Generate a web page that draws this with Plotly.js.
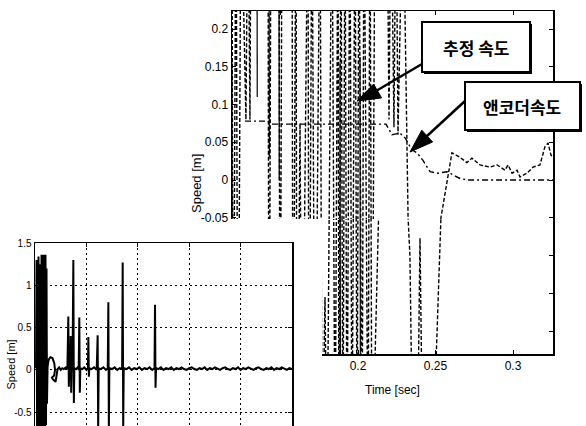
<!DOCTYPE html>
<html>
<head>
<meta charset="utf-8">
<script src="https://cdn.plot.ly/plotly-3.0.1.min.js"></script>
<style>html,body{margin:0;padding:0;background:#fff;}#chart{width:586px;height:426px;}</style>
</head>
<body>
<div id="chart"></div>
<script>
// ---------- Upper (zoomed) chart data ----------
// Estimated speed (dashed) – wild oscillations, values beyond the axis are clipped
const estTime = [
  0.1187,0.1194,0.1213,0.1226,0.1245,0.1277,0.1290,0.1303,0.1310,0.1419,
  0.1426,0.1439,0.1490,0.1497,0.1510,0.1574,0.1581,0.1600,0.1606,0.1626,
  0.1639,0.1677,0.1684,0.1703,0.1723,0.1755,0.1768,0.1787,0.1800,0.1832,
  0.1852,0.1871,0.1877,0.1890,0.1903,0.1916,0.1929,0.1948,0.1961,0.1981,
  0.1994,0.2006,0.2026,0.2039,0.2065,0.2077,0.2090,0.2110,0.2123,0.2187,
  0.2200,0.2213,0.2232,0.2245,0.2258,0.2290,0.2323,0.2335,0.2355,0.2381,
  0.2400,0.2419,0.2477,0.2535,0.2606,0.2658,0.2703,0.2735,0.2787,0.2852,
  0.2897,0.2948,0.2968,0.2994,0.3026,0.3045,0.3090,0.3129,0.3174,0.3206,
  0.3226,0.3245,0.3258
];
const estSpeed = [
  0.40,-0.40,0.40,-0.40,0.40,0.08,0.40,0.08,0.40,0.40,
  -0.40,0.40,0.40,-0.40,0.40,0.40,-0.40,0.40,-0.40,0.075,
  -0.40,0.40,-0.40,0.40,-0.40,0.40,-0.40,-0.155,-0.40,0.40,
  -0.40,0.40,-0.40,0.40,-0.40,0.40,-0.40,0.40,-0.40,0.40,
  -0.40,0.40,-0.40,0.40,-0.40,0.40,-0.40,0.40,0.40,0.40,
  0.08,0.40,0.07,0.40,0.06,0.40,-0.05,-0.10,-0.40,-0.40,
  -0.077,-0.40,-0.40,-0.05,0.036,0.030,0.023,0.029,0.020,0.017,
  0.020,0.013,0.020,0.009,0.013,0.004,0.009,0.017,0.020,0.044,
  0.049,0.033,0.030
];
// Encoder speed (dash-dot)
const encTime  = [0.1271,0.1419,0.1445,0.2181,0.2219,0.2271,0.2303,0.2348,0.2381,0.2419,0.2465,0.2516,0.2574,0.2658,0.2710,0.3258];
const encSpeed = [0.078,0.078,0.074,0.074,0.060,0.062,0.056,0.040,0.036,0.026,0.011,0.009,0.011,0.002,0.000,0.000];
// Thin solid spikes
const spikeTime  = [0.1187,0.1190,null,0.1348,0.1350,null,0.1426,0.1428,null,0.1490,0.1492,null,0.1884,0.1887,null,0.2013,0.2016];
const spikeSpeed = [0.16,-0.40,null,0.40,0.11,null,0.40,0.03,null,0.40,0.00,null,0.156,-0.40,null,0.163,-0.40];

const upperXTicks = [0.15,0.2,0.25,0.3];
const upperXText  = ['0.15','0.2','0.25','0.3'];
const upperYTicks = [-0.2,-0.15,-0.1,-0.05,0,0.05,0.1,0.15,0.2];
const upperYText  = ['-0.2','-0.15','-0.1','-0.05','0','0.05','0.1','0.15','0.2'];

// ---------- Lower (full) chart data ----------
const lowTime = [
  0.0020,0.0030,0.0040,0.0049,0.0058,0.0068,0.0078,0.0088,0.0097,0.0107,
  0.0117,0.0127,0.0136,0.0146,0.0156,0.0165,0.0175,0.0185,0.0195,0.0204,
  0.0214,0.0224,0.0233,0.0245,0.0265,0.0300,0.0340,0.0375,0.0390,0.0370,
  0.0330,0.0345,0.0400,0.0420,0.0440,0.0470,0.0500,0.0530,0.0560,0.0600,
  0.0630,0.0648,0.0658,0.0668,0.0684,0.0694,0.0704,0.0714,0.0730,0.0746,
  0.0756,0.0766,0.0800,0.0830,0.0850,0.0862,0.0872,0.0882,0.0920,0.0960,
  0.1000,0.1030,0.1038,0.1048,0.1058,0.1100,0.1150,0.1200,0.1219,0.1229,
  0.1239,0.1280,0.1330,0.1380,0.1415,0.1427,0.1437,0.1447,0.1500,0.1550,
  0.1600,0.1650,0.1695,0.1706,0.1716,0.1726,0.1780,0.1830,0.1880,0.1930,
  0.1980,0.2030,0.2080,0.2130,0.2180,0.2230,0.2280,0.2325,0.2335,0.2345,
  0.2355,0.2400,0.2450,0.2500,0.2550,0.2600,0.2650,0.2700,0.2750,0.2800,
  0.2850,0.2900,0.2950,0.3000,0.3050,0.3100,0.3150,0.3200,0.3250,0.3300,
  0.3350,0.3400,0.3450,0.3500,0.3550,0.3600,0.3650,0.3700,0.3750,0.3800,
  0.3850,0.3900,0.3950,0.4000,0.4050,0.4100,0.4150,0.4200,0.4250,0.4300,
  0.4350,0.4400,0.4450,0.4500,0.4550,0.4600,0.4650,0.4700,0.4750,0.4800,
  0.4850,0.4900,0.4950,0.5000
];
const lowSpeed = [
  0.02,1.30,-0.70,1.10,-0.70,1.34,-0.70,0.95,-0.70,1.25,
  -0.70,1.36,-0.70,1.35,-0.70,1.36,-0.70,1.34,-0.70,1.36,
  -0.65,1.20,-0.40,0.04,0.12,0.15,0.14,0.08,0.00,-0.07,
  -0.09,-0.11,-0.14,-0.08,0.01,0.03,0.00,0.02,0.01,0.03,
  0.01,0.63,-0.20,0.02,0.00,0.40,-0.27,0.01,0.02,1.30,
  -0.39,0.02,0.01,0.03,0.00,0.62,-0.27,0.02,0.01,0.03,
  0.00,0.02,0.39,-0.08,0.02,0.01,0.03,0.00,0.41,-0.70,
  0.02,0.01,0.03,0.00,0.02,0.80,-0.70,0.02,0.01,0.03,
  0.00,0.02,0.01,1.27,-0.70,0.02,0.01,0.03,0.00,0.02,
  0.01,0.03,0.00,0.02,0.01,0.03,0.00,0.02,0.77,-0.21,
  0.02,0.01,0.03,0.00,0.02,0.01,0.03,0.00,0.02,0.01,
  0.03,0.01,0.00,0.02,0.03,0.01,0.00,0.02,0.01,0.03,
  0.00,0.02,0.01,0.03,0.01,0.00,0.02,0.03,0.01,0.00,
  0.02,0.01,0.03,0.00,0.02,0.01,0.03,0.01,0.00,0.02,
  0.03,0.01,0.00,0.02,0.01,0.03,0.00,0.02,0.01,0.03,
  0.01,0.00,0.02,0.01
];
const lowYTicks = [-0.5,0,0.5,1,1.5];
const lowYText  = ['-0.5','0','0.5','1','1.5'];

// ---------- Layout helpers (pixel -> paper) ----------
const W = 586, H = 426;
const fx = p => p / W;
const fy = p => 1 - p / H;

const estLine = {color:'#000', width:1.4, dash:'4px,2px'};
const encLine = {color:'#000', width:1.4, dash:'6px,3px,2px,3px'};
const spkLine = {color:'#000', width:1.2};

function upperTraces(xa, ya) {
  return [
    {x: estTime, y: estSpeed, xaxis: xa, yaxis: ya, mode: 'lines', line: estLine, hoverinfo: 'skip', showlegend: false, name: '추정 속도'},
    {x: encTime, y: encSpeed, xaxis: xa, yaxis: ya, mode: 'lines', line: encLine, hoverinfo: 'skip', showlegend: false, name: '앤코더속도'},
    {x: spikeTime, y: spikeSpeed, xaxis: xa, yaxis: ya, mode: 'lines', line: spkLine, connectgaps: false, hoverinfo: 'skip', showlegend: false}
  ];
}

const data = [
  ...upperTraces('x', 'y'),
  ...upperTraces('x2', 'y2'),
  {x: lowTime, y: lowSpeed, xaxis: 'x3', yaxis: 'y3', mode: 'lines', line: {color:'#000', width:2}, hoverinfo: 'skip', showlegend: false}
];

const sans = 'Liberation Sans, Arial, sans-serif';
const kr = 'Noto Sans CJK KR, sans-serif';

const xRange = [0.118710, 0.325806];
const common = {showgrid:false, zeroline:false, showline:true, linecolor:'#000', linewidth:1.5, ticks:'inside', ticklen:4, tickcolor:'#000', tickwidth:1, fixedrange:true};

const layout = {
  width: W, height: H,
  margin: {l:0, r:0, t:0, b:0, pad:0},
  paper_bgcolor: '#fff', plot_bgcolor: 'rgba(0,0,0,0)',
  showlegend: false,
  // upper chart, top strip
  xaxis: Object.assign({}, common, {domain:[fx(232), fx(553)], range:xRange, anchor:'y', side:'top', tickvals:upperXTicks, showticklabels:false}),
  yaxis: Object.assign({}, common, {domain:[fy(219), fy(11)], range:[-0.05166, 0.22384], anchor:'x', mirror:'ticks', tickvals:upperYTicks, ticktext:upperYText, tickfont:{family:sans, size:12, color:'#000'}}),
  // upper chart, bottom-right part (rest hidden behind the lower chart)
  xaxis2: Object.assign({}, common, {domain:[fx(322), fx(553)], range:[0.176774, 0.325806], anchor:'y2', side:'bottom', tickvals:upperXTicks, ticktext:upperXText, tickfont:{family:sans, size:12, color:'#000'}}),
  yaxis2: Object.assign({}, common, {domain:[fy(354), fy(219)], range:[-0.23046, -0.05166], anchor:'x2', side:'right', tickvals:upperYTicks, showticklabels:false}),
  // lower chart
  xaxis3: Object.assign({}, common, {domain:[fx(35), fx(292)], range:[0, 0.5], anchor:'y3', side:'top', dtick:0.1, tick0:0, showticklabels:false, showgrid:true, gridcolor:'#000', gridwidth:1, griddash:'2px,3px'}),
  yaxis3: Object.assign({}, common, {domain:[0, fy(243)], range:[-0.663, 1.5], anchor:'x3', mirror:'ticks', tickvals:lowYTicks, ticktext:lowYText, tickfont:{family:sans, size:10, color:'#000'}, showgrid:true, gridcolor:'#000', gridwidth:1, griddash:'2px,3px'}),
  shapes: [
    // arrow 1 (추정 속도)
    {type:'line', xref:'paper', yref:'paper', x0:fx(422), y0:fy(64), x1:fx(376), y1:fy(91), line:{color:'#000', width:2.5}},
    {type:'path', xref:'paper', yref:'paper', path:`M${fx(357)},${fy(101)} L${fx(381.6)},${fy(97.9)} L${fx(373.6)},${fy(84.1)} Z`, fillcolor:'#000', line:{color:'#000', width:1}},
    // arrow 2 (앤코더속도)
    {type:'line', xref:'paper', yref:'paper', x0:fx(465), y0:fy(101), x1:fx(427), y1:fy(136), line:{color:'#000', width:2.5}},
    {type:'path', xref:'paper', yref:'paper', path:`M${fx(410)},${fy(152)} L${fx(432.6)},${fy(142)} L${fx(421.8)},${fy(130.2)} Z`, fillcolor:'#000', line:{color:'#000', width:1}},
    // box 1
    {type:'rect', xref:'paper', yref:'paper', x0:fx(424), y0:fy(74), x1:fx(532), y1:fy(24), fillcolor:'#000', line:{width:0}},
    {type:'rect', xref:'paper', yref:'paper', x0:fx(422), y0:fy(72), x1:fx(530), y1:fy(22), fillcolor:'#fff', line:{color:'#000', width:2}},
    // box 2
    {type:'rect', xref:'paper', yref:'paper', x0:fx(467), y0:fy(132), x1:fx(582), y1:fy(84), fillcolor:'#000', line:{width:0}},
    {type:'rect', xref:'paper', yref:'paper', x0:fx(465), y0:fy(130), x1:fx(580), y1:fy(82), fillcolor:'#fff', line:{color:'#000', width:2}}
  ],
  annotations: [
    {xref:'paper', yref:'paper', x:fx(476), y:fy(47), text:'<b>추정 속도</b>', showarrow:false, font:{family:kr, size:17, color:'#000'}, xanchor:'center', yanchor:'middle'},
    {xref:'paper', yref:'paper', x:fx(522), y:fy(106), text:'<b>앤코더속도</b>', showarrow:false, font:{family:kr, size:17, color:'#000'}, xanchor:'center', yanchor:'middle'},
    {xref:'paper', yref:'paper', x:fx(392), y:fy(390), text:'Time [sec]', showarrow:false, font:{family:sans, size:12, color:'#000'}, xanchor:'center', yanchor:'middle'},
    {xref:'paper', yref:'paper', x:fx(196), y:fy(184), text:'Speed [m]', textangle:-90, showarrow:false, font:{family:sans, size:13, color:'#000'}, xanchor:'center', yanchor:'middle'},
    {xref:'paper', yref:'paper', x:fx(10.5), y:fy(365), text:'Speed [m]', textangle:-90, showarrow:false, font:{family:sans, size:11, color:'#000'}, xanchor:'center', yanchor:'middle'}
  ]
};

Plotly.newPlot('chart', data, layout, {staticPlot:true, displayModeBar:false});
</script>
</body>
</html>
